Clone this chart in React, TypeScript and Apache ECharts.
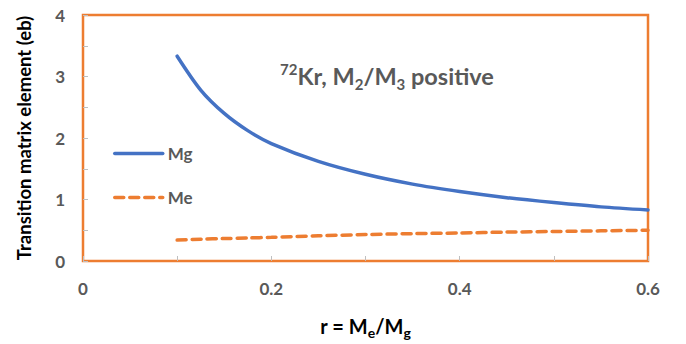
import React, { useEffect, useRef } from "react";
import * as echarts from "echarts";

const rValues = [0.1, 0.125, 0.15, 0.175, 0.2, 0.25, 0.3, 0.35, 0.4, 0.45, 0.5, 0.55, 0.6];
const mgValues = [3.33, 2.78, 2.4, 2.12, 1.91, 1.62, 1.41, 1.25, 1.13, 1.03, 0.95, 0.88, 0.83];
const meValues = [0.34, 0.355, 0.365, 0.375, 0.385, 0.41, 0.43, 0.445, 0.455, 0.47, 0.48, 0.49, 0.5];
const xTickLabels = ["0", "0.2", "0.4", "0.6"];
const yTickLabels = ["0", "1", "2", "3", "4"];

const FONT = "Lato, 'Liberation Sans', sans-serif";
const GRAY = "#595959";
const BLUE = "#4472C4";
const ORANGE = "#ED7D31";

export default function App() {
  const ref = useRef<HTMLDivElement>(null);
  useEffect(() => {
    if (!ref.current) return;
    const chart = echarts.init(ref.current, undefined, { renderer: "svg" });
    const option = {
      animation: false,
      backgroundColor: "#ffffff",
      textStyle: { fontFamily: FONT },
      grid: {
        left: 83,
        right: 38,
        top: 15,
        bottom: 74,
        show: true,
        borderColor: ORANGE,
        borderWidth: 2.5,
        containLabel: false,
      },
      xAxis: {
        type: "value",
        min: 0,
        max: 0.6,
        interval: 0.1,
        axisLine: { show: false },
        axisTick: { show: true, inside: true, length: 5, lineStyle: { color: "#BFBFBF", width: 1 } },
        splitLine: { show: false },
        axisLabel: {
          margin: 19,
          color: GRAY,
          fontSize: 17,
          fontWeight: "bold",
          fontFamily: FONT,
          formatter: (v: number) => {
            const k = Math.round(v * 10);
            return k % 2 === 0 ? xTickLabels[k / 2] : "";
          },
        },
        name: "{b|r = M}{s|e}{b|/M}{s|g}",
        nameLocation: "middle",
        nameGap: 51,
        nameTextStyle: {
          rich: {
            b: { fontSize: 20, fontWeight: "bold", color: "#000", fontFamily: FONT, lineHeight: 27 },
            s: { fontSize: 14, fontWeight: "bold", color: "#000", fontFamily: FONT, lineHeight: 14, verticalAlign: "bottom" },
          },
        },
      },
      yAxis: {
        type: "value",
        min: 0,
        max: 4,
        interval: 0.5,
        axisLine: { show: false },
        axisTick: { show: true, inside: true, length: 5, lineStyle: { color: "#BFBFBF", width: 1 } },
        splitLine: { show: false },
        axisLabel: {
          margin: 18,
          color: GRAY,
          fontSize: 17,
          fontWeight: "bold",
          fontFamily: FONT,
          formatter: (v: number) => {
            const k = Math.round(v * 2);
            return k % 2 === 0 ? yTickLabels[k / 2] : "";
          },
        },
        name: "Transition matrix element (eb)",
        nameLocation: "middle",
        nameGap: 50,
        nameTextStyle: { fontSize: 18.5, fontWeight: "bold", color: "#000", fontFamily: FONT },
      },
      legend: {
        orient: "vertical",
        left: 108,
        top: 140,
        itemGap: 27,
        itemWidth: 48,
        itemHeight: 18,
        itemStyle: { opacity: 0 },
        lineStyle: { width: 3.5 },
        textStyle: { fontSize: 17, fontWeight: "bold", color: GRAY, fontFamily: FONT },
        data: ["Mg", "Me"],
      },
      graphic: [
        {
          type: "text",
          left: 280,
          top: 61,
          style: {
            text: "{p|72}{t|Kr, M}{s|2}{t|/M}{s|3}{t| positive}",
            rich: {
              p: { fontSize: 15, fontWeight: "bold", fill: GRAY, fontFamily: FONT, lineHeight: 15, verticalAlign: "top" },
              t: { fontSize: 23.5, fontWeight: "bold", fill: GRAY, fontFamily: FONT, lineHeight: 30 },
              s: { fontSize: 15, fontWeight: "bold", fill: GRAY, fontFamily: FONT, lineHeight: 15, verticalAlign: "bottom" },
            },
          },
        },
      ],
      series: [
        {
          name: "Mg",
          type: "line",
          data: rValues.map((r, i) => [r, mgValues[i]]),
          smooth: 0.3,
          symbol: "none",
          lineStyle: { color: BLUE, width: 3.5, cap: "round" },
          itemStyle: { color: BLUE },
        },
        {
          name: "Me",
          type: "line",
          data: rValues.map((r, i) => [r, meValues[i]]),
          smooth: 0.3,
          symbol: "none",
          lineStyle: { color: ORANGE, width: 3.5, type: [9, 6], cap: "round" },
          itemStyle: { color: ORANGE },
        },
      ],
    };
    chart.setOption(option as any);
    return () => chart.dispose();
  }, []);
  return <div ref={ref} style={{ width: 686, height: 344, position: "absolute", left: 0, top: 0 }} />;
}
